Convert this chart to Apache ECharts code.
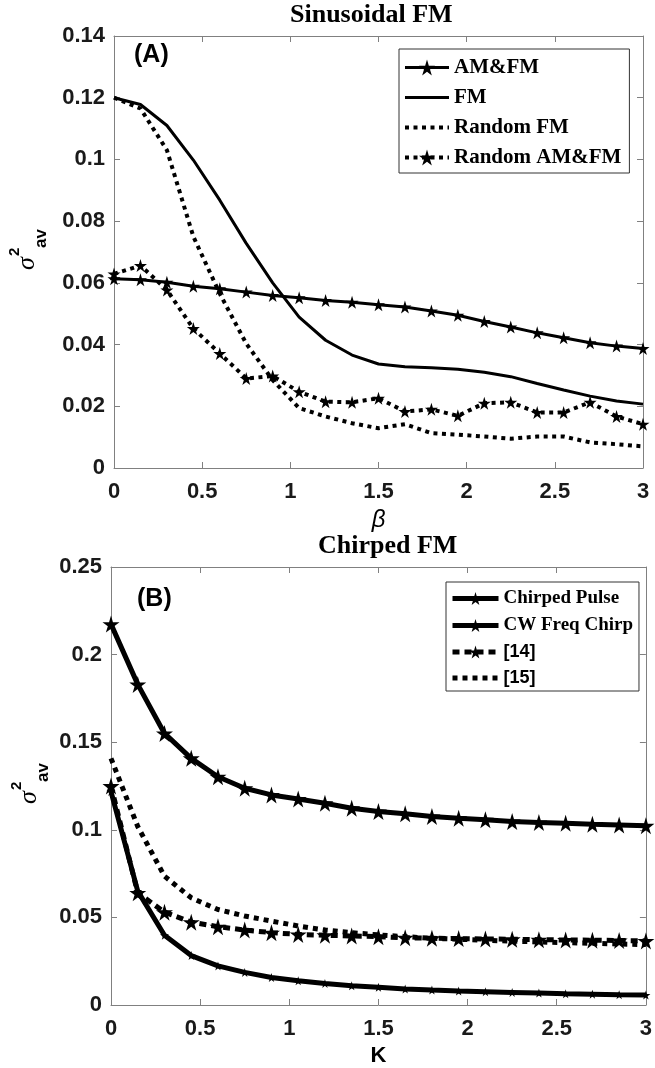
<!DOCTYPE html>
<html>
<head>
  <meta charset="utf-8">
  <title>Sinusoidal FM / Chirped FM</title>
  <script src="https://cdn.jsdelivr.net/npm/echarts@6/dist/echarts.min.js"></script>
  <style>
    html, body { margin: 0; padding: 0; background: #fff; }
    #chart { width: 655px; height: 1068px; }
  </style>
</head>
<body>
<div id="chart"></div>
<script>
  // x values (beta and K share the same 0.15 step)
  var xVals = [0, 0.15, 0.3, 0.45, 0.6, 0.75, 0.9, 1.05, 1.2, 1.35, 1.5,
               1.65, 1.8, 1.95, 2.1, 2.25, 2.4, 2.55, 2.7, 2.85, 3];

  // (A) Sinusoidal FM
  var amFm = [0.0613, 0.0610, 0.0602, 0.0589, 0.0581, 0.0570, 0.0559, 0.0552, 0.0543, 0.0537, 0.0529,
              0.0522, 0.0509, 0.0495, 0.0475, 0.0457, 0.0438, 0.0422, 0.0406, 0.0395, 0.0387];
  var fm = [0.1200, 0.1178, 0.1110, 0.0998, 0.0868, 0.0728, 0.0600, 0.0489, 0.0414, 0.0366, 0.0337,
            0.0328, 0.0325, 0.0320, 0.0310, 0.0296, 0.0274, 0.0253, 0.0233, 0.0217, 0.0207];
  var randomFm = [0.1200, 0.1165, 0.1030, 0.0750, 0.0565, 0.0403, 0.0285, 0.0194, 0.0167, 0.0145, 0.0129,
                  0.0142, 0.0113, 0.0108, 0.0102, 0.0095, 0.0102, 0.0102, 0.0083, 0.0077, 0.0070];
  var randomAmFm = [0.0629, 0.0656, 0.0577, 0.0452, 0.0371, 0.0290, 0.0298, 0.0247, 0.0215, 0.0213, 0.0226,
                    0.0183, 0.0190, 0.0169, 0.0210, 0.0213, 0.0180, 0.0180, 0.0213, 0.0167, 0.0142];

  // (B) Chirped FM
  var chirpedPulse = [0.2174, 0.1830, 0.1550, 0.1408, 0.1303, 0.1237, 0.1199, 0.1176, 0.1152, 0.1123, 0.1104,
                      0.1091, 0.1076, 0.1066, 0.1057, 0.1047, 0.1042, 0.1038, 0.1032, 0.1028, 0.1023];
  var cwChirp = [0.1218, 0.0650, 0.0398, 0.0282, 0.0223, 0.0186, 0.0157, 0.0138, 0.0123, 0.0110, 0.0101,
                 0.0091, 0.0085, 0.0080, 0.0076, 0.0072, 0.0068, 0.0064, 0.0062, 0.0059, 0.0057];
  var ref14 = [0.1250, 0.0640, 0.0530, 0.0473, 0.0447, 0.0428, 0.0413, 0.0403, 0.0398, 0.0394, 0.0390,
               0.0384, 0.0381, 0.0379, 0.0377, 0.0375, 0.0373, 0.0371, 0.0370, 0.0368, 0.0366];
  var ref15 = [0.1408, 0.1019, 0.0735, 0.0612, 0.0545, 0.0508, 0.0479, 0.0451, 0.0428, 0.0413, 0.0400,
               0.0390, 0.0381, 0.0375, 0.0370, 0.0364, 0.0360, 0.0356, 0.0352, 0.0348, 0.0345];

  var STAR = 'path://M50,0 L61,35 L98,35 L68,57 L79,91 L50,70 L21,91 L32,57 L2,35 L39,35 Z';
  var AXIS_GRAY = '#808080';
  var SANS = 'Liberation Sans';
  var SERIF = 'Liberation Serif';
  var DOT_A = [4, 4.5];
  var DASH_B = [7, 5];
  var DOT_B = [5, 5];

  function pairs(ys) {
    return xVals.map(function (x, i) { return [x, ys[i]]; });
  }

  function xAx(grid, pos, show, extra) {
    var a = {
      gridIndex: grid, type: 'value', position: pos, min: 0, max: 3, interval: 0.5,
      axisLine: { onZero: false, lineStyle: { color: AXIS_GRAY, width: 1 } },
      axisTick: { inside: true, length: 6, lineStyle: { color: AXIS_GRAY } },
      axisLabel: { show: show, fontFamily: SANS, fontWeight: 'bold', fontSize: 22, color: '#1a1a1a', margin: 13 },
      splitLine: { show: false }
    };
    return Object.assign(a, extra || {});
  }

  function yAx(grid, pos, show, max, step) {
    return {
      gridIndex: grid, type: 'value', position: pos, min: 0, max: max, interval: step,
      axisLine: { show: true, onZero: false, lineStyle: { color: AXIS_GRAY, width: 1 } },
      axisTick: { show: true, inside: true, length: 6, lineStyle: { color: AXIS_GRAY } },
      axisLabel: { show: show, fontFamily: SANS, fontWeight: 'bold', fontSize: 22, color: '#1a1a1a', margin: 9 },
      splitLine: { show: false }
    };
  }

  function line(name, grid, ys, width, dash, symbol, size) {
    return {
      name: name, type: 'line', xAxisIndex: grid * 2, yAxisIndex: grid * 2,
      data: pairs(ys),
      symbol: symbol || 'none', symbolSize: size || 0, showSymbol: !!symbol,
      lineStyle: { color: '#000', width: width, type: dash, cap: 'butt' },
      itemStyle: { color: '#000' },
      z: 3
    };
  }

  // legend entry: line sample, with or without a marker
  function legItem(name, width, dash, marker) {
    var it = { name: name, lineStyle: { color: '#000', width: width, type: dash, cap: 'butt' } };
    if (!marker) {
      it.itemStyle = { color: 'rgba(0,0,0,0)', borderWidth: 0, opacity: 0 };
    }
    return it;
  }

  function sigmaLabel(x0, y0) {
    return {
      type: 'group', x: x0, y: y0, rotation: Math.PI / 2,
      children: [
        { type: 'text', x: 0, y: 0,
          style: { text: 'σ', font: 'italic 26px "Liberation Serif"', fill: '#000',
                   textAlign: 'left', textVerticalAlign: 'middle', align: 'left', verticalAlign: 'middle' } },
        { type: 'text', x: 14, y: -12,
          style: { text: '2', font: 'bold 15px "Liberation Sans"', fill: '#000',
                   textAlign: 'left', textVerticalAlign: 'middle', align: 'left', verticalAlign: 'middle' } },
        { type: 'text', x: 22, y: 14,
          style: { text: 'av', font: 'bold 17px "Liberation Sans"', fill: '#000',
                   textAlign: 'left', textVerticalAlign: 'middle', align: 'left', verticalAlign: 'middle' } }
      ]
    };
  }

  var chart = echarts.init(document.getElementById('chart'), null, { renderer: 'canvas' });

  chart.setOption({
    animation: false,
    backgroundColor: '#fff',
    title: [
      { text: 'Sinusoidal FM', left: 290, top: 2, padding: 0,
        textStyle: { fontFamily: SERIF, fontWeight: 'bold', fontSize: 26, color: '#000' } },
      { text: 'Chirped FM', left: 318, top: 533, padding: 0,
        textStyle: { fontFamily: SERIF, fontWeight: 'bold', fontSize: 26, color: '#000' } },
      { text: '(A)', left: 134, top: 43, padding: 0,
        textStyle: { fontFamily: SANS, fontWeight: 'bold', fontSize: 25, color: '#000' } },
      { text: '(B)', left: 137, top: 587, padding: 0,
        textStyle: { fontFamily: SANS, fontWeight: 'bold', fontSize: 25, color: '#000' } }
    ],
    legend: [
      {
        data: [
          legItem('AM&FM', 3, 'solid', true),
          legItem('FM', 3, 'solid', false),
          legItem('Random FM', 4, DOT_A, false),
          legItem('Random AM&FM', 4, DOT_A, true)
        ],
        orient: 'vertical', left: 399, top: 49,
        backgroundColor: '#fff', borderColor: '#333', borderWidth: 1,
        padding: [8, 8, 5, 4], itemWidth: 44, itemHeight: 20, itemGap: 9,
        textStyle: { fontFamily: SERIF, fontWeight: 'bold', fontSize: 21, color: '#000' }
      },
      {
        data: [
          legItem('Chirped Pulse', 5, 'solid', true),
          legItem('CW Freq Chirp', 5, 'solid', true),
          legItem('[14]', 5, DASH_B, true),
          legItem('[15]', 5, DOT_B, false)
        ],
        orient: 'vertical', left: 446, top: 582,
        backgroundColor: '#fff', borderColor: '#333', borderWidth: 1,
        padding: [7, 6, 4, 4], itemWidth: 46, itemHeight: 16, itemGap: 8,
        formatter: function (n) { return n.charAt(0) === '[' ? '{s|' + n + '}' : n; },
        textStyle: { fontFamily: SERIF, fontWeight: 'bold', fontSize: 19, color: '#000',
                     rich: { s: { fontFamily: SANS, fontWeight: 'bold', fontSize: 18, color: '#000' } } }
      }
    ],
    grid: [
      { left: 114, right: 12, top: 36, height: 432 },
      { left: 111, right: 6, top: 567, height: 438 }
    ],
    xAxis: [
      xAx(0, 'bottom', true, { name: 'β', nameLocation: 'middle', nameGap: 40,
        nameTextStyle: { fontFamily: SANS, fontStyle: 'italic', fontSize: 24, color: '#000' } }),
      xAx(0, 'top', false),
      xAx(1, 'bottom', true, { name: 'K', nameLocation: 'middle', nameGap: 40,
        nameTextStyle: { fontFamily: SANS, fontWeight: 'bold', fontSize: 22, color: '#000' } }),
      xAx(1, 'top', false)
    ],
    yAxis: [
      yAx(0, 'left', true, 0.14, 0.02),
      yAx(0, 'right', false, 0.14, 0.02),
      yAx(1, 'left', true, 0.25, 0.05),
      yAx(1, 'right', false, 0.25, 0.05)
    ],
    graphic: [sigmaLabel(27, 270), sigmaLabel(29, 804)],
    series: [
      line('AM&FM', 0, amFm, 3, 'solid', STAR, 13),
      line('FM', 0, fm, 3, 'solid'),
      line('Random FM', 0, randomFm, 4, DOT_A),
      line('Random AM&FM', 0, randomAmFm, 4, DOT_A, STAR, 13),
      line('Chirped Pulse', 1, chirpedPulse, 5, 'solid', STAR, 17),
      line('CW Freq Chirp', 1, cwChirp, 5, 'solid', STAR, 9),
      line('[14]', 1, ref14, 5, DASH_B, STAR, 17),
      line('[15]', 1, ref15, 5, DOT_B)
    ]
  });
</script>
</body>
</html>
